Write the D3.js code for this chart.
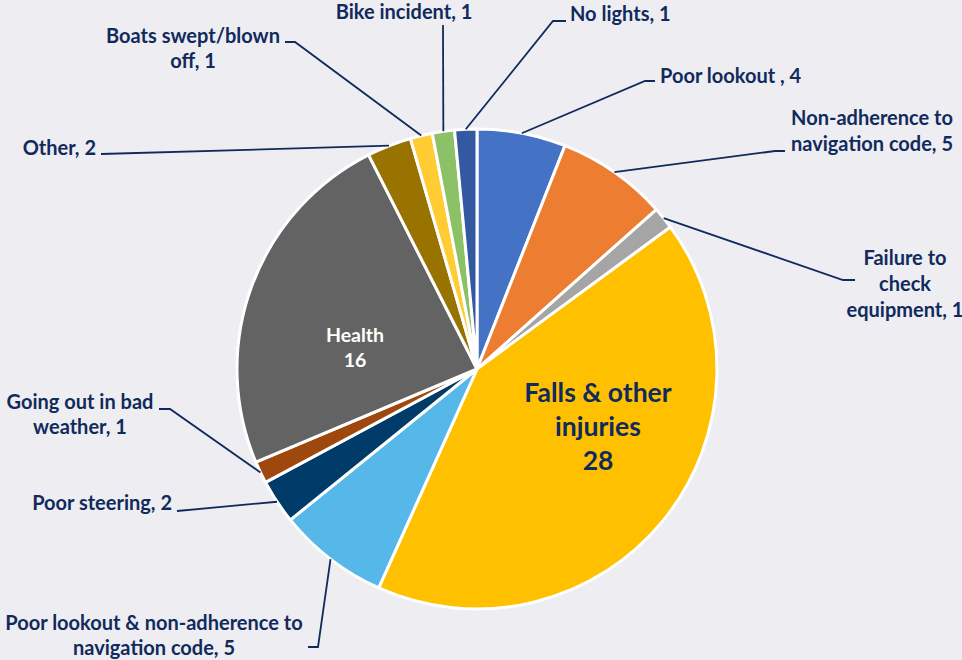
<!DOCTYPE html>
<html>
<head>
<meta charset="utf-8">
<script src="https://cdn.jsdelivr.net/npm/d3@7"></script>
<style>
  html, body { margin: 0; padding: 0; background: #EDEDF2; }
  svg { display: block; }
  text { font-family: Lato, "Open Sans", sans-serif; font-weight: 700; }
</style>
</head>
<body>
<svg id="chart" width="962" height="660"></svg>
<script>
// ---- data ----
const categories = [
  "Poor lookout ",
  "Non-adherence to\nnavigation code",
  "Failure to\ncheck\nequipment",
  "Falls & other\ninjuries",
  "Poor lookout & non-adherence to\nnavigation code",
  "Poor steering",
  "Going out in bad\nweather",
  "Health",
  "Other",
  "Boats swept/blown\noff",
  "Bike incident",
  "No lights"
];
const values = [4, 5, 1, 28, 5, 2, 1, 16, 2, 1, 1, 1];
const insideLabels = [false, false, false, true, false, false, false, true, false, false, false, false];

// ---- styles / layout ----
const colors = ["#4472C4", "#ED7D31", "#A5A5A5", "#FFC000", "#56B8E8", "#003B6A",
                "#9E480E", "#636363", "#997300", "#FFCC33", "#8CC168", "#3359A0"];
const W = 962, H = 660;
const cx = 477, cy = 369, R = 240;
const navy = "#112A5C";

// label layout: text anchor point (x, first baseline), line height, anchor, leader elbow points (from slice edge outward)
const labelLayout = [
  { x: 660, y: 83, lh: 26, anchor: "start", size: 20, pts: [[645, 81], [655, 81]] },
  { x: 872, y: 125, lh: 26, anchor: "middle", size: 20, pts: [[775, 151], [785, 151]] },
  { x: 905, y: 265, lh: 26, anchor: "middle", size: 20, pts: [[843, 280], [855, 280]] },
  { x: 598, y: 402, lh: 34, anchor: "middle", size: 26.5, color: navy },
  { x: 154, y: 630, lh: 25, anchor: "middle", size: 20, pts: [[318, 647], [308, 647]] },
  { x: 172, y: 510, lh: 26, anchor: "end", size: 20, pts: [[177, 511]] },
  { x: 80, y: 409, lh: 25, anchor: "middle", size: 20, pts: [[170, 409], [159, 409]] },
  { x: 355, y: 342, lh: 25, anchor: "middle", size: 19.5, color: "#FFFFFF" },
  { x: 96, y: 155, lh: 26, anchor: "end", size: 20, pts: [[101, 154]] },
  { x: 193, y: 43, lh: 25, anchor: "middle", size: 20, pts: [[295, 42], [285, 42]] },
  { x: 404, y: 19, lh: 26, anchor: "middle", size: 20, pts: [[443, 25]] },
  { x: 570, y: 21, lh: 26, anchor: "start", size: 20, pts: [[553, 21], [566, 21]] }
];

const svg = d3.select("#chart");
svg.append("rect").attr("width", W).attr("height", H).attr("fill", "#EDEDF2");

const pie = d3.pie().sort(null).value(d => d).startAngle(0).endAngle(2 * Math.PI);
const arcs = pie(values);
const arc = d3.arc().innerRadius(0).outerRadius(R);

const g = svg.append("g").attr("transform", `translate(${cx},${cy})`);
g.selectAll("path.slice")
  .data(arcs)
  .join("path")
  .attr("class", "slice")
  .attr("d", arc)
  .attr("fill", (d, i) => colors[i])
  .attr("stroke", "#FFFFFF")
  .attr("stroke-width", 3)
  .attr("stroke-linejoin", "round");

// leader lines
const line = d3.line();
arcs.forEach((d, i) => {
  const L = labelLayout[i];
  if (insideLabels[i] || !L.pts) return;
  const a = (d.startAngle + d.endAngle) / 2;
  const edge = [cx + R * Math.sin(a), cy - R * Math.cos(a)];
  svg.append("path")
    .attr("d", line([edge, ...L.pts]))
    .attr("fill", "none")
    .attr("stroke", navy)
    .attr("stroke-width", 1.8);
});

// labels
arcs.forEach((d, i) => {
  const L = labelLayout[i];
  const txt = insideLabels[i]
    ? categories[i] + "\n" + values[i]
    : categories[i] + ", " + values[i];
  const lines = txt.split("\n");
  const t = svg.append("text")
    .attr("text-anchor", L.anchor)
    .attr("font-size", L.size)
    .attr("fill", L.color || navy);
  lines.forEach((ln, k) => {
    t.append("tspan").attr("x", L.x).attr("y", L.y + k * L.lh).text(ln);
  });
});
</script>
</body>
</html>
